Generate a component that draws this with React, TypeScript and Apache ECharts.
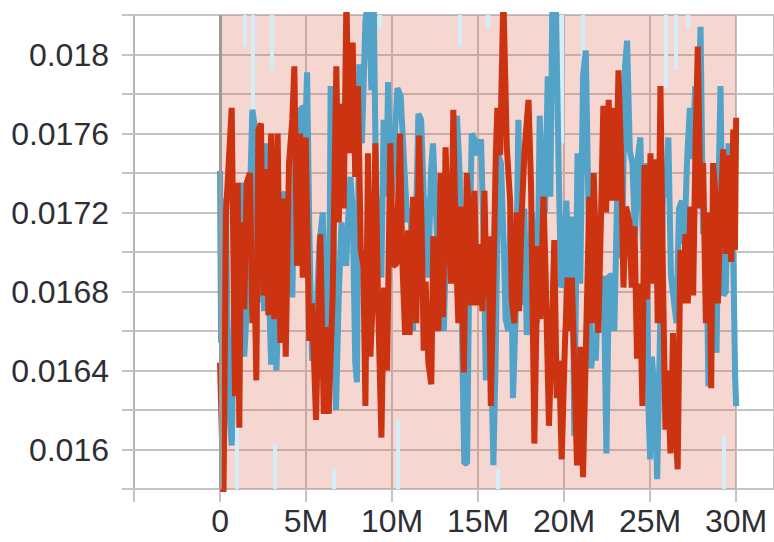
import { useEffect, useRef } from "react";
import * as echarts from "echarts";

// x positions in millions of steps, values of the metric
const redX = [0, 0.2, 0.35, 0.68, 0.87, 1.03, 1.12, 1.22, 1.41, 1.55, 1.74, 1.88, 2.0, 2.11, 2.23, 2.38, 2.52, 2.66, 2.81, 2.97, 3.16, 3.35, 3.51, 3.66, 3.82, 4.01, 4.2, 4.32, 4.48, 4.65, 4.81, 4.98, 5.19, 5.35, 5.58, 5.83, 6.03, 6.16, 6.32, 6.55, 6.76, 6.9, 7.04, 7.19, 7.35, 7.48, 7.71, 7.86, 8.02, 8.18, 8.33, 8.45, 8.6, 8.74, 8.87, 9.03, 9.18, 9.38, 9.53, 9.71, 9.9, 10.06, 10.25, 10.46, 10.6, 10.76, 10.93, 11.02, 11.22, 11.41, 11.57, 11.72, 11.84, 11.95, 12.11, 12.28, 12.4, 12.53, 12.69, 12.82, 12.96, 13.11, 13.27, 13.43, 13.56, 13.7, 13.85, 14.01, 14.17, 14.34, 14.48, 14.59, 14.79, 14.92, 15.11, 15.25, 15.37, 15.5, 15.6, 15.74, 15.89, 16.03, 16.12, 16.28, 16.47, 16.67, 16.86, 16.96, 17.11, 17.25, 17.38, 17.54, 17.69, 17.93, 18.08, 18.27, 18.47, 18.62, 18.8, 18.93, 19.12, 19.28, 19.43, 19.57, 19.71, 19.86, 20.05, 20.2, 20.3, 20.45, 20.75, 20.95, 21.1, 21.28, 21.47, 21.61, 21.72, 21.86, 21.99, 22.15, 22.28, 22.44, 22.59, 22.73, 22.89, 23.02, 23.16, 23.31, 23.45, 23.6, 23.8, 23.93, 24.09, 24.24, 24.4, 24.55, 24.67, 24.82, 25.02, 25.17, 25.31, 25.44, 25.6, 25.75, 25.89, 26.02, 26.18, 26.33, 26.47, 26.6, 26.76, 26.91, 27.05, 27.19, 27.34, 27.5, 27.63, 27.77, 27.93, 28.08, 28.24, 28.41, 28.55, 28.66, 28.8, 28.94, 29.09, 29.25, 29.4, 29.56, 29.71, 29.83, 29.93, 30];
const redY = [0.01644, 0.01575, 0.0172, 0.01773, 0.01627, 0.01735, 0.01611, 0.01715, 0.01671, 0.01735, 0.0174, 0.01664, 0.01691, 0.01635, 0.01762, 0.01765, 0.01678, 0.01742, 0.01668, 0.0176, 0.01666, 0.0176, 0.01654, 0.01727, 0.01647, 0.01745, 0.01767, 0.01794, 0.01693, 0.0176, 0.01687, 0.01758, 0.01655, 0.01674, 0.01615, 0.01709, 0.01618, 0.01662, 0.01618, 0.01679, 0.01794, 0.01715, 0.01775, 0.01722, 0.0183, 0.0175, 0.01806, 0.01738, 0.01784, 0.01701, 0.01693, 0.01622, 0.0175, 0.01647, 0.01674, 0.01755, 0.01677, 0.01606, 0.01682, 0.0164, 0.01755, 0.01693, 0.01694, 0.0176, 0.01694, 0.01658, 0.01711, 0.01658, 0.01728, 0.01664, 0.01759, 0.01713, 0.0165, 0.01685, 0.01644, 0.01633, 0.01708, 0.01667, 0.0166, 0.0174, 0.01667, 0.01753, 0.01711, 0.01684, 0.01772, 0.01706, 0.01664, 0.01723, 0.01639, 0.0174, 0.0172, 0.01673, 0.01731, 0.01673, 0.01704, 0.0167, 0.01731, 0.01677, 0.01708, 0.01622, 0.01685, 0.01749, 0.01773, 0.01749, 0.0183, 0.01753, 0.01726, 0.01676, 0.01664, 0.0172, 0.0167, 0.0172, 0.0175, 0.01777, 0.01733, 0.01603, 0.01703, 0.01666, 0.01728, 0.01687, 0.01612, 0.01657, 0.01706, 0.01626, 0.01645, 0.01595, 0.01654, 0.01687, 0.0166, 0.01687, 0.01592, 0.01652, 0.01586, 0.01657, 0.01728, 0.01664, 0.0174, 0.01697, 0.01659, 0.0172, 0.01774, 0.0172, 0.01777, 0.01726, 0.01773, 0.01726, 0.01792, 0.01749, 0.01682, 0.01723, 0.01715, 0.01682, 0.01713, 0.01646, 0.01684, 0.01622, 0.01744, 0.01676, 0.0175, 0.01684, 0.01747, 0.01664, 0.01784, 0.01684, 0.0161, 0.0164, 0.01598, 0.01659, 0.01612, 0.0159, 0.01701, 0.01674, 0.01709, 0.01674, 0.01723, 0.01678, 0.0175, 0.01804, 0.01722, 0.01745, 0.01664, 0.0172, 0.01631, 0.01745, 0.01728, 0.01674, 0.0172, 0.01752, 0.01699, 0.01749, 0.01695, 0.01762, 0.01701, 0.01768];

const blueX = [0, 0.06, 0.19, 0.35, 0.48, 0.68, 0.83, 0.99, 1.22, 1.41, 1.55, 1.74, 1.88, 2.03, 2.15, 2.27, 2.42, 2.56, 2.67, 2.81, 2.97, 3.12, 3.28, 3.43, 3.59, 3.78, 3.97, 4.2, 4.36, 4.55, 4.71, 4.84, 4.92, 5.06, 5.19, 5.35, 5.54, 5.78, 5.97, 6.16, 6.32, 6.43, 6.61, 6.74, 6.9, 7.06, 7.19, 7.33, 7.44, 7.58, 7.71, 7.86, 7.96, 8.1, 8.25, 8.45, 8.64, 8.8, 8.93, 9.07, 9.22, 9.38, 9.51, 9.65, 9.77, 9.9, 9.98, 10.11, 10.31, 10.5, 10.7, 10.89, 11.08, 11.22, 11.38, 11.53, 11.69, 11.84, 11.99, 12.11, 12.26, 12.38, 12.53, 12.69, 12.84, 13.01, 13.15, 13.3, 13.46, 13.62, 13.77, 13.93, 14.09, 14.2, 14.36, 14.48, 14.63, 14.79, 14.96, 15.17, 15.31, 15.45, 15.6, 15.76, 15.89, 16.03, 16.18, 16.33, 16.49, 16.6, 16.76, 16.88, 17.03, 17.19, 17.34, 17.5, 17.69, 17.83, 17.97, 18.12, 18.27, 18.43, 18.58, 18.74, 18.89, 19.05, 19.2, 19.32, 19.51, 19.67, 19.82, 19.98, 20.13, 20.3, 20.48, 20.59, 20.78, 20.94, 21.1, 21.26, 21.41, 21.57, 21.72, 21.84, 21.99, 22.15, 22.3, 22.46, 22.61, 22.77, 22.92, 23.08, 23.23, 23.39, 23.54, 23.66, 23.82, 23.97, 24.12, 24.28, 24.43, 24.59, 24.74, 24.9, 25.0, 25.1, 25.25, 25.41, 25.6, 25.75, 25.91, 26.06, 26.21, 26.37, 26.53, 26.68, 26.84, 26.99, 27.15, 27.31, 27.46, 27.62, 27.77, 27.93, 28.08, 28.24, 28.39, 28.55, 28.7, 28.86, 28.98, 29.09, 29.25, 29.4, 29.56, 29.71, 29.83, 29.94, 30];
const blueY = [0.01741, 0.01654, 0.01727, 0.01719, 0.01628, 0.01602, 0.01676, 0.01719, 0.01735, 0.01647, 0.01671, 0.01728, 0.01772, 0.01763, 0.01674, 0.01677, 0.01752, 0.0167, 0.01755, 0.01691, 0.01643, 0.01668, 0.0164, 0.01684, 0.01728, 0.0173, 0.01721, 0.01677, 0.0175, 0.01741, 0.01773, 0.01773, 0.01749, 0.01791, 0.01711, 0.01645, 0.01654, 0.01704, 0.0172, 0.0166, 0.01637, 0.01784, 0.01704, 0.0162, 0.01677, 0.01715, 0.01701, 0.01693, 0.01715, 0.01738, 0.01722, 0.01644, 0.01634, 0.01795, 0.01755, 0.01817, 0.0183, 0.01782, 0.0183, 0.01728, 0.01722, 0.01687, 0.01767, 0.01728, 0.01786, 0.01741, 0.01728, 0.0175, 0.01783, 0.01779, 0.01745, 0.01715, 0.01722, 0.0166, 0.01711, 0.0177, 0.01767, 0.01728, 0.01723, 0.01687, 0.01741, 0.01755, 0.01723, 0.01694, 0.01676, 0.0166, 0.01709, 0.01694, 0.01725, 0.0172, 0.01769, 0.0174, 0.01645, 0.01593, 0.01593, 0.01684, 0.0176, 0.01757, 0.01749, 0.01757, 0.01711, 0.01635, 0.01694, 0.01644, 0.01592, 0.0165, 0.01749, 0.01745, 0.01704, 0.01666, 0.0166, 0.01719, 0.01626, 0.0167, 0.01767, 0.01673, 0.01722, 0.01658, 0.01677, 0.0172, 0.01704, 0.01664, 0.01769, 0.01728, 0.0172, 0.01789, 0.01728, 0.0183, 0.0183, 0.01749, 0.01682, 0.01687, 0.01726, 0.01684, 0.01718, 0.01607, 0.0175, 0.01684, 0.01789, 0.01802, 0.01725, 0.01641, 0.01654, 0.01645, 0.01686, 0.01666, 0.01688, 0.01598, 0.01688, 0.01688, 0.0166, 0.01728, 0.01697, 0.01711, 0.01794, 0.01807, 0.01751, 0.01745, 0.01708, 0.01747, 0.01758, 0.01701, 0.01745, 0.01622, 0.01595, 0.01647, 0.0163, 0.01585, 0.01671, 0.01731, 0.01728, 0.01758, 0.01688, 0.01676, 0.01664, 0.01722, 0.01726, 0.01704, 0.01747, 0.01773, 0.01747, 0.01784, 0.01751, 0.01814, 0.01709, 0.0172, 0.01632, 0.0166, 0.01674, 0.01649, 0.01734, 0.01784, 0.01678, 0.0168, 0.01755, 0.01706, 0.01699, 0.01637, 0.01622];

// faint raw-value spikes of the blue run: position, inner end, outer end
const ghostX = [0.99, 1.45, 1.92, 3.02, 3.2, 6.63, 9.3, 10.35, 13.95, 15.58, 16.16, 19.88, 21.1, 25.93, 26.51, 27.2, 29.3];
const ghostFrom = [0.01612, 0.01804, 0.01772, 0.01792, 0.01603, 0.0159, 0.01813, 0.01615, 0.01804, 0.01813, 0.0159, 0.01755, 0.0176, 0.01783, 0.01792, 0.01813, 0.01607];
const ghostTo = [0.0158, 0.0182, 0.0182, 0.0182, 0.0158, 0.0158, 0.0182, 0.0158, 0.0182, 0.0182, 0.0158, 0.0182, 0.0182, 0.0182, 0.0182, 0.0182, 0.0158];

const shadeRange = [0, 30]; // millions

const M = 1e6;

export default function App() {
  const ref = useRef<HTMLDivElement>(null);
  useEffect(() => {
    const chart = echarts.init(ref.current!, null, { renderer: "svg" });
    const font = "'Liberation Sans', Arial, Helvetica, sans-serif";
    const grayLine = "#c4c4c4";
    const textColor = "#2e2e34";
    chart.setOption({
      animation: false,
      grid: { left: 134, right: 0, top: 15, bottom: 53 },
      xAxis: {
        type: "value",
        min: -5 * M,
        max: 32.2 * M,
        interval: 5 * M,
        axisLine: { show: true, onZero: false, lineStyle: { color: grayLine, width: 2 } },
        axisTick: { show: true, length: 13, lineStyle: { color: grayLine, width: 2 } },
        axisLabel: {
          margin: 16,
          fontSize: 32,
          color: textColor,
          fontFamily: font,
          showMaxLabel: false,
          formatter: (v: number) => {
            if (v < 0) return "";
            const k = Math.round(v / (5 * M));
            if (Math.abs(k * 5 * M - v) > 1) return "";
            return v === 0 ? "0" : k * 5 + "M";
          },
        },
        splitLine: { show: true, lineStyle: { color: grayLine, width: 2 } },
      },
      yAxis: {
        type: "value",
        min: 0.0158,
        max: 0.0182,
        interval: 0.0002,
        axisLine: { show: true, onZero: false, lineStyle: { color: "#b4b4b4", width: 2 } },
        axisTick: { show: true, length: 12, lineStyle: { color: grayLine, width: 2 } },
        axisLabel: {
          margin: 25,
          fontSize: 32,
          color: textColor,
          fontFamily: font,
          formatter: (v: number) => {
            const k = Math.round((v - 0.016) / 0.0002);
            if (k < 0 || k > 10 || k % 2 !== 0) return "";
            return String(+v.toFixed(4));
          },
        },
        splitLine: { show: true, lineStyle: { color: grayLine, width: 2 } },
      },
      series: [
        {
          type: "line",
          data: [],
          z: 1,
          silent: true,
          markArea: {
            silent: true,
            itemStyle: { color: "rgba(222,96,76,0.26)" },
            data: [[{ xAxis: shadeRange[0] * M }, { xAxis: shadeRange[1] * M }]],
          },
          markLine: {
            silent: true,
            symbol: ["none", "none"],
            label: { show: false },
            lineStyle: { color: "#9a9a9a", width: 3, type: "solid" },
            data: [{ xAxis: 0 }],
          },
        },
        {
          type: "lines",
          coordinateSystem: "cartesian2d",
          z: 2,
          silent: true,
          lineStyle: { color: "#d3eef9", width: 4, opacity: 1 },
          data: ghostX.map((x, i) => ({ coords: [[x * M, ghostFrom[i]], [x * M, ghostTo[i]]] })),
        },
        {
          type: "line",
          z: 3,
          silent: true,
          showSymbol: false,
          symbol: "none",
          lineStyle: { color: "#52a3c7", width: 6 },
          data: blueX.map((x, i) => [x * M, blueY[i]]),
        },
        {
          type: "line",
          z: 4,
          silent: true,
          showSymbol: false,
          symbol: "none",
          lineStyle: { color: "#cc3311", width: 6 },
          data: redX.map((x, i) => [x * M, redY[i]]),
        },
      ],
    });
    return () => chart.dispose();
  }, []);
  return <div ref={ref} style={{ position: "absolute", left: 0, top: 0, width: 774, height: 542 }} />;
}
